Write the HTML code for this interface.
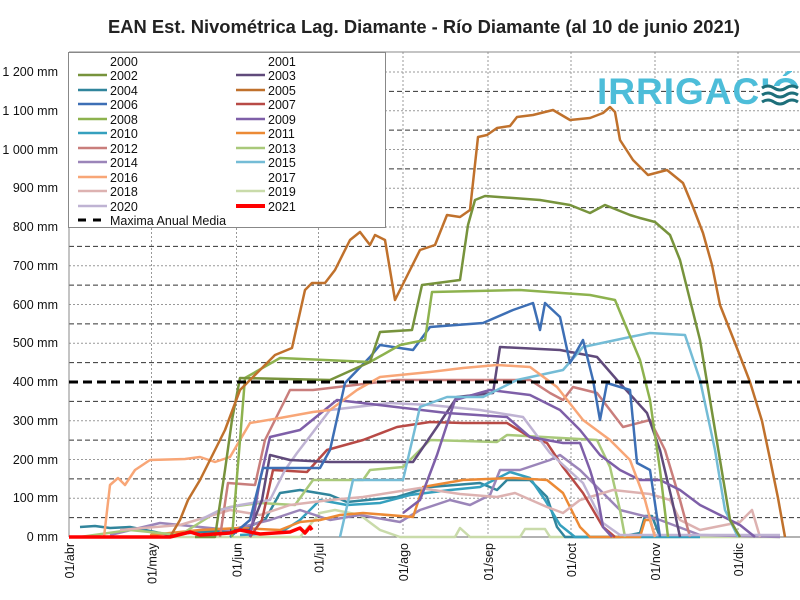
<!DOCTYPE html>
<html><head><meta charset="utf-8"><style>
html,body{margin:0;padding:0;background:#fff;}
svg{display:block;font-family:"Liberation Sans",sans-serif;}
</style></head><body>
<svg width="800" height="600" viewBox="0 0 800 600" xmlns="http://www.w3.org/2000/svg">
<rect width="800" height="600" fill="#fff"/>
<text x="108" y="33" textLength="632" lengthAdjust="spacingAndGlyphs" font-size="18" font-weight="bold" fill="#222">EAN Est. Nivométrica Lag.  Diamante - Río Diamante (al 10 de junio 2021)</text>
<g stroke-width="1" fill="none">
<g stroke="#999" stroke-dasharray="2,2">
<line x1="69" y1="498.3" x2="800" y2="498.3"/><line x1="69" y1="459.5" x2="800" y2="459.5"/>
<line x1="69" y1="420.8" x2="800" y2="420.8"/><line x1="69" y1="343.3" x2="800" y2="343.3"/>
<line x1="69" y1="304.5" x2="800" y2="304.5"/><line x1="69" y1="265.8" x2="800" y2="265.8"/>
<line x1="69" y1="227" x2="800" y2="227"/><line x1="69" y1="188.3" x2="800" y2="188.3"/>
<line x1="69" y1="149.5" x2="800" y2="149.5"/><line x1="69" y1="110.8" x2="800" y2="110.8"/>
<line x1="69" y1="72" x2="800" y2="72"/>
<line x1="151.5" y1="52" x2="151.5" y2="537"/><line x1="236.5" y1="52" x2="236.5" y2="537"/>
<line x1="318.5" y1="52" x2="318.5" y2="537"/><line x1="403" y1="52" x2="403" y2="537"/>
<line x1="488" y1="52" x2="488" y2="537"/><line x1="571" y1="52" x2="571" y2="537"/>
<line x1="655" y1="52" x2="655" y2="537"/><line x1="738" y1="52" x2="738" y2="537"/>
</g>
<g stroke="#333" stroke-dasharray="5,3">
<line x1="69" y1="517.6" x2="800" y2="517.6"/><line x1="69" y1="478.9" x2="800" y2="478.9"/>
<line x1="69" y1="440.1" x2="800" y2="440.1"/><line x1="69" y1="401.4" x2="800" y2="401.4"/>
<line x1="69" y1="362.6" x2="800" y2="362.6"/><line x1="69" y1="323.9" x2="800" y2="323.9"/>
<line x1="69" y1="285.1" x2="800" y2="285.1"/><line x1="69" y1="246.4" x2="800" y2="246.4"/>
<line x1="69" y1="207.6" x2="800" y2="207.6"/><line x1="69" y1="168.9" x2="800" y2="168.9"/>
<line x1="69" y1="130.1" x2="800" y2="130.1"/><line x1="69" y1="91.4" x2="800" y2="91.4"/>
</g>
</g>
<line x1="69" y1="52" x2="800" y2="52" stroke="#888" stroke-width="1"/>
<line x1="69" y1="52" x2="69" y2="537" stroke="#888" stroke-width="1"/>
<line x1="69" y1="537" x2="800" y2="537" stroke="#666" stroke-width="1"/>

<text x="597" y="104" font-size="37" font-weight="bold" fill="#4DBDD9" letter-spacing="1">IRRIGACIÓN</text>
<rect x="760" y="86" width="40" height="20" fill="#fff"/>
<g stroke="#1D6F7A" stroke-width="3" fill="none">
<path d="M762,88 q6,-4 12,0 t12,0 t12,0"/><path d="M762,95 q6,-4 12,0 t12,0 t12,0"/><path d="M762,102 q6,-4 12,0 t12,0 t12,0"/>
</g>

<g fill="none" stroke-width="2.5" stroke-linejoin="round">
<polyline stroke="#C9DBAA" points="69,537 300,537 320,513 335,510 360,515 380,530 400,537 455,537 460,528 470,537 520,537 525,529 545,529 550,537 600,537 780,537"/>
<polyline stroke="#31859C" points="80,527 95,526 110,528 130,527 150,531 170,535 200,532 240,530 265,520 280,493 300,490 330,495 347,502 397,497 430,487 480,483 497,490 507,480 530,480 547,497 557,527 565,537 620,537 640,533 645,516 652,516 660,537"/>
<polyline stroke="#35A0BE" points="240,535 280,533 300,520 320,500 347,505 380,503 410,495 450,490 480,487 510,472 530,478 545,500 560,525 575,537 700,537"/>
<polyline stroke="#9B85B9" points="110,535 160,523 200,527 230,530 270,520 300,510 330,520 360,515 400,522 420,510 450,500 470,505 490,495 500,470 520,470 550,460 560,455 580,470 600,490 620,510 660,520 700,535 780,537"/>
<polyline stroke="#EC8A35" points="150,535 200,530 240,528 280,530 300,522 320,520 340,515 363,513 413,517 423,487 463,480 513,478 547,480 563,493 580,527 590,537 640,537 645,520 650,520 655,537"/>
<polyline stroke="#A9C97A" points="80,537 130,530 180,535 220,510 230,507 260,503 295,505 313,480 330,480 363,480 370,470 403,467 430,440 497,442 507,435 597,440 610,467 620,510 625,537"/>
<polyline stroke="#DDB2B1" points="120,530 180,525 230,510 260,515 290,505 330,500 363,497 420,488 460,494 497,497 515,493 547,507 563,513 580,500 613,490 650,494 670,500 680,520 700,530 740,522 752,510 760,537"/>
<polyline stroke="#C97E7C" points="220,537 228,483 255,485 265,440 290,390 313,390 397,380 463,380 530,380 550,393 563,400 573,387 597,393 623,427 650,420 665,450 680,500 690,537"/>
<polyline stroke="#B84A46" points="250,537 262,520 273,470 307,472 327,450 363,440 397,427 430,422 463,423 507,423 530,437 547,443 563,467 583,493 603,527 615,537"/>
<polyline stroke="#BFB3D3" points="200,520 220,510 240,505 270,500 285,470 297,453 330,410 390,403 430,405 480,410 523,417 550,453 583,483 603,523 620,535 780,535"/>
<polyline stroke="#604A7B" points="230,530 250,530 262,500 270,455 290,460 330,462 413,462 437,427 457,397 493,393 500,347 560,350 597,357 617,380 647,413 660,450 672,500 680,537"/>
<polyline stroke="#7E5FA8" points="250,537 260,480 270,437 300,430 337,400 447,413 507,417 530,437 563,443 580,443 590,470 597,493 603,527 612,537"/>
<polyline stroke="#7E5FA8" points="403,513 420,500 437,455 455,400 490,390 530,395 560,410 580,430 600,455 620,470 640,480 660,480 680,490 700,505 720,515 740,525 755,537"/>
<polyline stroke="#74BCD6" points="340,537 353,480 403,480 420,407 447,397 483,397 517,380 563,370 583,347 630,337 650,333 685,335 700,380 715,450 725,510 738,537"/>
<polyline stroke="#F8A677" points="104,537 110,485 118,478 125,485 135,470 150,460 185,459 200,457 215,462 230,457 250,423 280,418 313,412 330,410 357,390 380,377 430,372 463,368 497,365 530,367 557,387 583,420 610,440 630,460 645,500 655,537"/>
<polyline stroke="#3D6FB5" points="230,537 250,520 263,468 320,468 330,450 345,383 370,357 380,345 413,350 430,327 483,323 513,310 533,303 540,330 545,303 560,317 570,363 583,340 593,380 600,420 607,383 630,390 637,463 650,470 660,537"/>
<polyline stroke="#8DB24E" points="232,537 240,440 245,378 280,358 370,362 400,345 425,340 432,292 520,290 590,295 615,300 640,360 650,400 660,470 668,537"/>
<polyline stroke="#77933C" points="195,537 215,537 225,470 232,420 240,378 330,380 370,362 380,332 412,330 422,285 460,280 468,225 475,200 485,196 540,200 570,205 590,213 605,205 630,215 640,218 655,222 670,235 680,260 690,300 700,340 710,400 720,460 730,520 740,537"/>
<polyline stroke="#C0712C" points="170,537 180,520 188,500 200,480 210,460 225,430 240,390 260,370 275,355 292,348 305,290 312,283 325,283 335,270 350,240 360,232 370,245 375,235 385,240 395,300 405,280 420,250 435,245 447,215 460,217 470,210 478,137 487,135 497,128 510,126 517,117 533,115 553,110 570,120 590,118 603,113 610,107 615,112 620,140 633,160 648,175 667,170 683,183 693,207 703,233 712,265 720,305 735,343 750,382 762,421 770,459 778,498 785,537"/>
<polyline stroke="#FF0000" stroke-width="3.5" points="69,537 170,537 190,532 200,535 230,533 240,530 260,534 290,532 300,528 305,533 310,527 312,530"/>
</g>
<line x1="69" y1="382" x2="800" y2="382" stroke="#000" stroke-width="3" stroke-dasharray="9,5"/>

<rect x="68.5" y="52.5" width="317" height="175" fill="#fff" stroke="#888"/>
<g font-size="12.5" fill="#111">
<text x="110" y="66">2000</text><text x="268" y="66">2001</text>
<text x="110" y="80">2002</text><text x="268" y="80">2003</text>
<text x="110" y="95">2004</text><text x="268" y="95">2005</text>
<text x="110" y="109">2006</text><text x="268" y="109">2007</text>
<text x="110" y="124">2008</text><text x="268" y="124">2009</text>
<text x="110" y="138">2010</text><text x="268" y="138">2011</text>
<text x="110" y="153">2012</text><text x="268" y="153">2013</text>
<text x="110" y="167">2014</text><text x="268" y="167">2015</text>
<text x="110" y="182">2016</text><text x="268" y="182">2017</text>
<text x="110" y="196">2018</text><text x="268" y="196">2019</text>
<text x="110" y="211">2020</text><text x="268" y="211">2021</text>
<text x="110" y="225">Maxima Anual Media</text>
</g>
<g stroke-width="2.5">
<line x1="78" y1="75" x2="107" y2="75" stroke="#77933C"/><line x1="236" y1="75" x2="265" y2="75" stroke="#604A7B"/>
<line x1="78" y1="90" x2="107" y2="90" stroke="#31859C"/><line x1="236" y1="90" x2="265" y2="90" stroke="#C0712C"/>
<line x1="78" y1="104" x2="107" y2="104" stroke="#3D6FB5"/><line x1="236" y1="104" x2="265" y2="104" stroke="#B84A46"/>
<line x1="78" y1="119" x2="107" y2="119" stroke="#8DB24E"/><line x1="236" y1="119" x2="265" y2="119" stroke="#7E5FA8"/>
<line x1="78" y1="133" x2="107" y2="133" stroke="#35A0BE"/><line x1="236" y1="133" x2="265" y2="133" stroke="#EC8A35"/>
<line x1="78" y1="148" x2="107" y2="148" stroke="#C97E7C"/><line x1="236" y1="148" x2="265" y2="148" stroke="#A9C97A"/>
<line x1="78" y1="162" x2="107" y2="162" stroke="#9B85B9"/><line x1="236" y1="162" x2="265" y2="162" stroke="#74BCD6"/>
<line x1="78" y1="177" x2="107" y2="177" stroke="#F8A677"/>
<line x1="78" y1="191" x2="107" y2="191" stroke="#DDB2B1"/><line x1="236" y1="191" x2="265" y2="191" stroke="#C9DBAA"/>
<line x1="78" y1="206" x2="107" y2="206" stroke="#BFB3D3"/><line x1="236" y1="206" x2="265" y2="206" stroke="#FF0000" stroke-width="4"/>
<line x1="78" y1="220" x2="107" y2="220" stroke="#000" stroke-width="3" stroke-dasharray="8,7"/>
</g>

<g font-size="12.5" fill="#111" text-anchor="end">
<text x="58" y="541">0 mm</text><text x="58" y="502">100 mm</text><text x="58" y="464">200 mm</text>
<text x="58" y="425">300 mm</text><text x="58" y="386">400 mm</text><text x="58" y="347">500 mm</text>
<text x="58" y="309">600 mm</text><text x="58" y="270">700 mm</text><text x="58" y="231">800 mm</text>
<text x="58" y="192">900 mm</text><text x="58" y="154">1 000 mm</text><text x="58" y="115">1 100 mm</text>
<text x="58" y="76">1 200 mm</text>
</g>
<g font-size="12.5" fill="#111" text-anchor="end">
<text transform="translate(74,543) rotate(-90)">01/abr</text>
<text transform="translate(156.5,543) rotate(-90)">01/may</text>
<text transform="translate(241.5,543) rotate(-90)">01/jun</text>
<text transform="translate(323.5,543) rotate(-90)">01/jul</text>
<text transform="translate(408,543) rotate(-90)">01/ago</text>
<text transform="translate(493,543) rotate(-90)">01/sep</text>
<text transform="translate(576,543) rotate(-90)">01/oct</text>
<text transform="translate(660,543) rotate(-90)">01/nov</text>
<text transform="translate(743,543) rotate(-90)">01/dic</text>
</g>
</svg>
</body></html>
